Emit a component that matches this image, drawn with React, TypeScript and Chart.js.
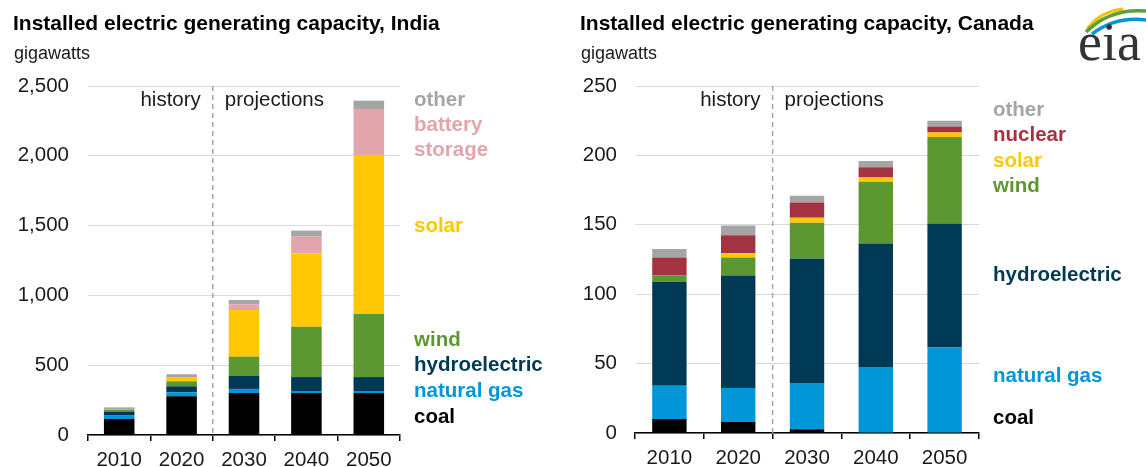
import React, { useEffect, useRef } from 'react';
import { Chart, registerables } from 'chart.js';

Chart.register(...registerables);

// ---------- data ----------
const years = ['2010', '2020', '2030', '2040', '2050'];

// India (gigawatts)
const indiaCoal = [115, 277, 301, 301, 301];
const indiaGas = [24, 29, 29, 14, 14];
const indiaHydro = [29, 43, 93, 100, 100];
const indiaWind = [12, 36, 138, 361, 452];
const indiaSolar = [1, 26, 334, 526, 1139];
const indiaBattery = [0, 0, 41, 119, 329];
const indiaOther = [17, 24, 31, 43, 60];
const indiaTicks = [0, 500, 1000, 1500, 2000, 2500];

// Canada (gigawatts)
const canadaCoal = [10, 8, 2.7, 0, 0];
const canadaGas = [24, 24.5, 33.3, 47.6, 61.6];
const canadaHydro = [75, 81, 89.5, 89, 89.4];
const canadaWind = [4.5, 13, 26, 44.4, 62.3];
const canadaSolar = [0, 3, 3.5, 3, 3.2];
const canadaNuclear = [13, 13, 11, 7.5, 4.3];
const canadaOther = [6, 7, 5, 4.5, 4.1];
const canadaTicks = [0, 50, 100, 150, 200, 250];

// label anchors (in data units along the y axis)
const indiaLabelText = ['other', 'battery', 'storage', 'solar', 'wind', 'hydroelectric', 'natural gas', 'coal'];
const indiaLabelAt = [2400, 2220, 2040, 1495, 678, 497, 313, 127];
const canadaLabelText = ['other', 'nuclear', 'solar', 'wind', 'hydroelectric', 'natural gas', 'coal'];
const canadaLabelAt = [232.8, 214.8, 196, 178, 113.8, 40.6, 10.6];

const C = {
  coal: '#000000',
  gas: '#0096d7',
  hydro: '#003953',
  wind: '#5d9732',
  solar: '#ffc704',
  battery: '#e3a5ac',
  nuclear: '#a33340',
  other: '#a5a5a5',
};

const indiaLabelColor = [C.other, C.battery, C.battery, C.solar, C.wind, C.hydro, C.gas, C.coal];
const canadaLabelColor = [C.other, C.nuclear, C.solar, C.wind, C.hydro, C.gas, C.coal];

const FONT = '"Liberation Sans", Arial, Helvetica, sans-serif';

function overlayPlugin(texts: string[], at: number[], colors: string[]) {
  return {
    id: 'overlay',
    afterDraw(chart: any) {
      const ctx = chart.ctx;
      const area = chart.chartArea;
      const x = chart.scales.x;
      const y = chart.scales.y;
      // divider between history and projections
      const dx = (x.getPixelForValue(1) + x.getPixelForValue(2)) / 2;
      ctx.save();
      ctx.strokeStyle = '#a6a6a6';
      ctx.lineWidth = 1.5;
      ctx.setLineDash([5, 4]);
      ctx.beginPath();
      ctx.moveTo(dx, area.top);
      ctx.lineTo(dx, area.bottom);
      ctx.stroke();
      ctx.setLineDash([]);
      ctx.fillStyle = '#1a1a1a';
      ctx.font = `20.5px ${FONT}`;
      ctx.textBaseline = 'alphabetic';
      ctx.textAlign = 'right';
      ctx.fillText('history', dx - 12, area.top + 20);
      ctx.textAlign = 'left';
      ctx.fillText('projections', dx + 12, area.top + 20);
      // series labels
      ctx.font = `bold 20.5px ${FONT}`;
      ctx.textBaseline = 'middle';
      for (let i = 0; i < texts.length; i++) {
        ctx.fillStyle = colors[i];
        ctx.fillText(texts[i], area.right + 14, y.getPixelForValue(at[i]));
      }
      ctx.restore();
    },
  };
}

function makeConfig(
  datasets: { label: string; data: number[]; color: string }[],
  ticks: number[],
  opts: { yWidth: number; xHeight: number; padRight: number; barPct: number; yPad: number },
  plugin: any
): any {
  return {
    type: 'bar',
    data: {
      labels: years,
      datasets: datasets.map((d) => ({
        label: d.label,
        data: d.data,
        backgroundColor: d.color,
        borderWidth: 0,
        categoryPercentage: 1,
        barPercentage: opts.barPct,
      })),
    },
    options: {
      responsive: false,
      animation: false,
      layout: { padding: { top: 86, right: opts.padRight, left: 0, bottom: 0 } },
      plugins: { legend: { display: false }, tooltip: { enabled: false }, title: { display: false } },
      scales: {
        x: {
          stacked: true,
          afterFit: (s: any) => {
            s.height = opts.xHeight;
          },
          grid: {
            drawOnChartArea: false,
            drawTicks: true,
            tickLength: 6,
            color: '#000',
            lineWidth: 1.5,
            offset: true,
          },
          border: { display: true, color: '#000', width: 1.5 },
          ticks: { color: '#1a1a1a', font: { family: FONT, size: 20.5 }, padding: 7, maxRotation: 0 },
        },
        y: {
          stacked: true,
          min: ticks[0],
          max: ticks[ticks.length - 1],
          afterFit: (s: any) => {
            s.width = opts.yWidth;
          },
          afterBuildTicks: (s: any) => {
            s.ticks = ticks.map((v) => ({ value: v }));
          },
          grid: { color: '#d9d9d9', lineWidth: 1, drawTicks: false },
          border: { display: false },
          ticks: {
            color: '#1a1a1a',
            font: { family: FONT, size: 20.5 },
            padding: opts.yPad,
            callback: (v: number) => v.toLocaleString('en-US'),
          },
        },
      },
    },
    plugins: [plugin],
  };
}

function BarChart({ config, width, height, left }: { config: any; width: number; height: number; left: number }) {
  const ref = useRef<HTMLCanvasElement | null>(null);
  useEffect(() => {
    if (!ref.current) return;
    const chart = new Chart(ref.current, config);
    return () => chart.destroy();
  }, [config]);
  return (
    <canvas
      ref={ref}
      width={width}
      height={height}
      style={{ position: 'absolute', left, top: 0, width, height }}
    />
  );
}

const indiaConfig = makeConfig(
  [
    { label: 'coal', data: indiaCoal, color: C.coal },
    { label: 'natural gas', data: indiaGas, color: C.gas },
    { label: 'hydroelectric', data: indiaHydro, color: C.hydro },
    { label: 'wind', data: indiaWind, color: C.wind },
    { label: 'solar', data: indiaSolar, color: C.solar },
    { label: 'battery storage', data: indiaBattery, color: C.battery },
    { label: 'other', data: indiaOther, color: C.other },
  ],
  indiaTicks,
  { yWidth: 88, xHeight: 32, padRight: 160, barPct: 0.49, yPad: 19 },
  overlayPlugin(indiaLabelText, indiaLabelAt, indiaLabelColor)
);

const canadaConfig = makeConfig(
  [
    { label: 'coal', data: canadaCoal, color: C.coal },
    { label: 'natural gas', data: canadaGas, color: C.gas },
    { label: 'hydroelectric', data: canadaHydro, color: C.hydro },
    { label: 'wind', data: canadaWind, color: C.wind },
    { label: 'solar', data: canadaSolar, color: C.solar },
    { label: 'nuclear', data: canadaNuclear, color: C.nuclear },
    { label: 'other', data: canadaOther, color: C.other },
  ],
  canadaTicks,
  { yWidth: 75, xHeight: 34, padRight: 167, barPct: 0.5, yPad: 18 },
  overlayPlugin(canadaLabelText, canadaLabelAt, canadaLabelColor)
);

const titleStyle: React.CSSProperties = {
  position: 'absolute',
  fontFamily: FONT,
  fontWeight: 'bold',
  fontSize: '21px',
  lineHeight: '21px',
  color: '#000',
  whiteSpace: 'nowrap',
  margin: 0,
};
const unitStyle: React.CSSProperties = {
  position: 'absolute',
  fontFamily: FONT,
  fontSize: '18px',
  lineHeight: '18px',
  color: '#1a1a1a',
  whiteSpace: 'nowrap',
  margin: 0,
};

export default function App() {
  return (
    <div style={{ position: 'absolute', left: 0, top: 0, width: 1146, height: 467, background: '#fff', overflow: 'hidden' }}>
      <BarChart config={indiaConfig} width={560} height={467} left={0} />
      <BarChart config={canadaConfig} width={586} height={467} left={560} />
      <div style={{ ...titleStyle, left: 13, top: 12.2 }}>Installed electric generating capacity, India</div>
      <div style={{ ...unitStyle, left: 14, top: 43.8 }}>gigawatts</div>
      <div style={{ ...titleStyle, left: 580, top: 11.8 }}>Installed electric generating capacity, Canada</div>
      <div style={{ ...unitStyle, left: 581, top: 43.8 }}>gigawatts</div>
      <svg width={76} height={70} style={{ position: 'absolute', left: 1070, top: 0 }}>
        <path d="M18 28 Q30 12 52 9" stroke="#f2c300" strokeWidth={3} fill="none" strokeLinecap="round" />
        <path d="M16 32 Q40 8 76 11" stroke="#5da035" strokeWidth={3.5} fill="none" />
        <path d="M22 34 Q46 16 76 20" stroke="#0096d7" strokeWidth={3.5} fill="none" />
        <text x={8} y={60} fontFamily='"Liberation Serif", "Times New Roman", serif' fontSize={54} fill="#333">
          eia
        </text>
      </svg>
    </div>
  );
}
